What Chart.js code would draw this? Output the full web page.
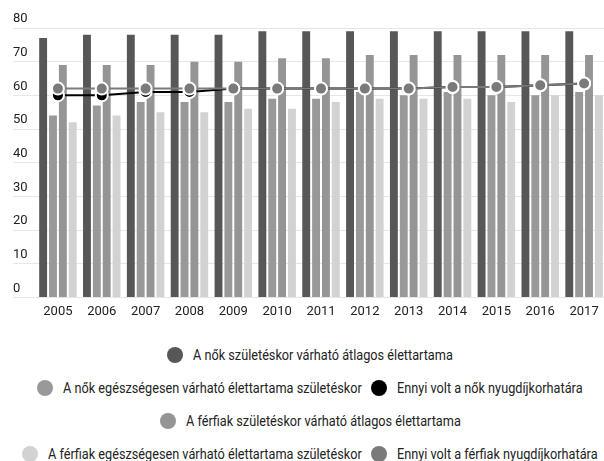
<!DOCTYPE html>
<html>
<head>
<meta charset="utf-8">
<script src="https://cdn.jsdelivr.net/npm/chart.js@4"></script>
<style>
  html, body { margin: 0; padding: 0; background: #fff; overflow: hidden; width: 604px; height: 461px; }
  #wrap { position: relative; width: 614px; height: 327px; }
  #legend { width: 620px; padding-top: 11px; font-family: Roboto, sans-serif; font-size: 14px; color: #222; }
  .row { display: flex; justify-content: center; align-items: center; height: 33px; }
  .item { display: flex; align-items: center; margin: 0 4.5px; white-space: nowrap; }
  .dot { width: 16px; height: 16px; border-radius: 50%; margin-right: 10px; flex: none; }
  .txt { display: inline-block; transform-origin: 0 50%; }
</style>
</head>
<body>
<div id="wrap"><canvas id="chart"></canvas></div>
<div id="legend"></div>
<script>
const years = ['2005', '2006', '2007', '2008', '2009', '2010', '2011', '2012', '2013', '2014', '2015', '2016', '2017'];
const womenLife = [77, 78, 78, 78, 78, 79, 79, 79, 79, 79, 79, 79, 79];
const womenHealthy = [54, 57, 58, 58, 58, 59, 59, 61, 60, 61, 60, 60, 61];
const womenRetire = [60, 60, 61, 61, 62, 62, 62, 62, 62, 62.5, 62.5, 63, 63.5];
const menLife = [69, 69, 69, 70, 70, 71, 71, 72, 72, 72, 72, 72, 72];
const menHealthy = [52, 54, 55, 55, 56, 56, 58, 59, 59, 59, 58, 60, 60];
const menRetire = [62, 62, 62, 62, 62, 62, 62, 62, 62, 62.5, 62.5, 63, 63.5];
const yTicks = [0, 10, 20, 30, 40, 50, 60, 70, 80];

const font = { family: 'Roboto', size: 13 };

const bar = (label, data, color) => ({
  type: 'bar', label, data, backgroundColor: color, order: 2,
});
const line = (label, data, color, order) => ({
  type: 'line', label, data, order,
  borderColor: color, borderWidth: 2, tension: 0,
  pointRadius: 6, pointBackgroundColor: color, pointBorderColor: '#fff', pointBorderWidth: 2,
});

const datasets = [
  bar('A nők születéskor várható átlagos élettartama', womenLife, '#575757'),
  bar('A nők egészségesen várható élettartama születéskor', womenHealthy, '#999999'),
  line('Ennyi volt a nők nyugdíjkorhatára', womenRetire, '#000000', 1),
  bar('A férfiak születéskor várható átlagos élettartama', menLife, '#959595'),
  bar('A férfiak egészségesen várható élettartama születéskor', menHealthy, '#d2d2d2'),
  line('Ennyi volt a férfiak nyugdíjkorhatára', menRetire, '#7a7a7a', 0),
];

new Chart(document.getElementById('chart'), {
  data: { labels: years, datasets },
  options: {
    responsive: true,
    maintainAspectRatio: false,
    animation: false,
    layout: { padding: { left: 13, right: 2, top: 28 } },
    datasets: { bar: { categoryPercentage: 0.9, barPercentage: 0.8 } },
    plugins: { legend: { display: false }, tooltip: { enabled: false } },
    scales: {
      x: {
        grid: { display: false, drawTicks: false },
        border: { display: false },
        ticks: { font, color: '#222', padding: 7 },
      },
      y: {
        min: 0, max: 80,
        afterFit: axis => { axis.width = 23; },
        afterBuildTicks: axis => { axis.ticks = yTicks.map(v => ({ value: v })); },
        grid: { color: '#e6e6e6', tickLength: 23 },
        border: { display: false },
        ticks: { font, color: '#222', crossAlign: 'far', labelOffset: -9, padding: 0 },
      },
    },
  },
});

// legend laid out in the same rows as the original, text squeezed like a condensed face
const legendRows = [[0], [1, 2], [3], [4, 5]];
const legend = document.getElementById('legend');
const texts = [];
legendRows.forEach(row => {
  const r = document.createElement('div');
  r.className = 'row';
  row.forEach(i => {
    const ds = datasets[i];
    const it = document.createElement('div');
    it.className = 'item';
    const dot = document.createElement('span');
    dot.className = 'dot';
    dot.style.background = ds.type === 'line' ? ds.borderColor : ds.backgroundColor;
    const txt = document.createElement('span');
    txt.className = 'txt';
    txt.textContent = ds.label;
    texts[i] = txt;
    it.appendChild(dot);
    it.appendChild(txt);
    r.appendChild(it);
  });
  legend.appendChild(r);
});
// "Ennyi volt a nők nyugdíjkorhatára" is about 186px wide in the original
const squeeze = Math.min(1, 186 / texts[2].offsetWidth);
texts.forEach(t => {
  t.style.transform = `scaleX(${squeeze})`;
  t.style.marginRight = -(t.offsetWidth * (1 - squeeze)) + 'px';
});
</script>
</body>
</html>
